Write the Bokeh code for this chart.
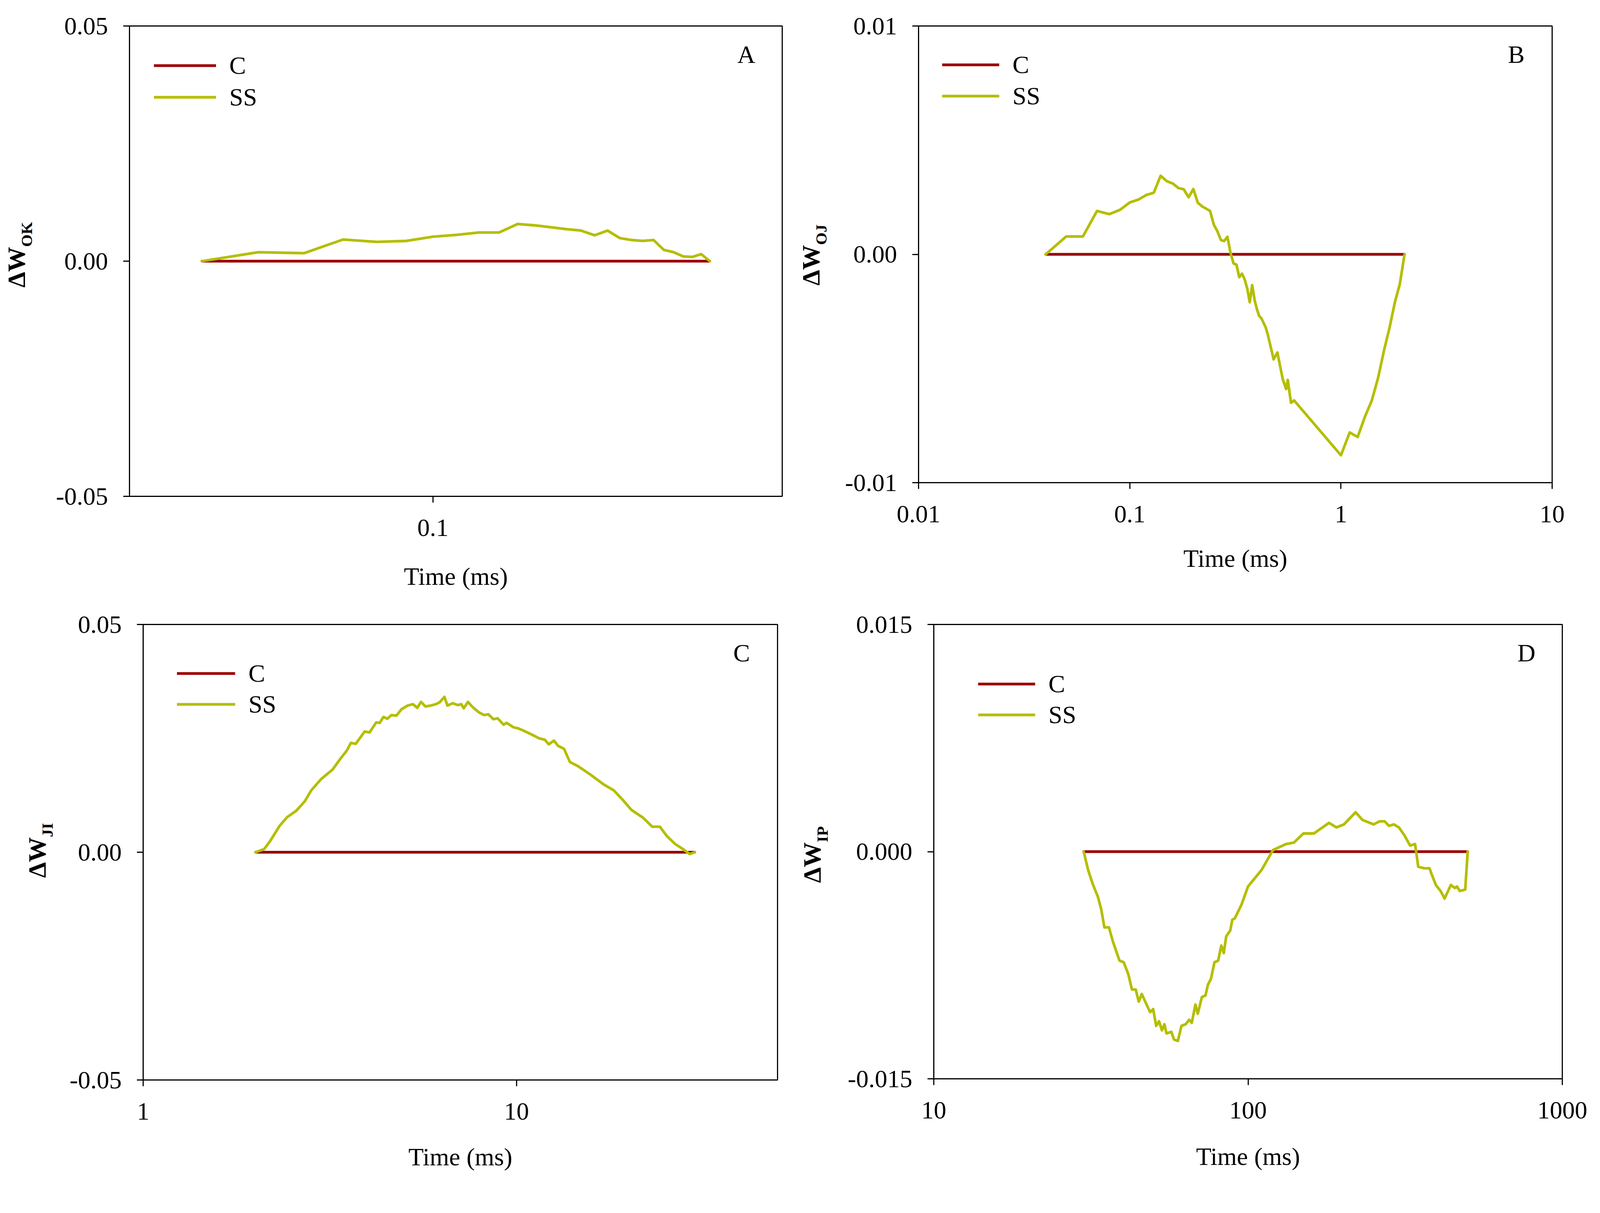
from bokeh.plotting import figure
from bokeh.models import Range1d, FixedTicker, PrintfTickFormatter, CustomJSTickFormatter, Label, Div
from bokeh.layouts import column, row
from bokeh.embed import file_html
from bokeh.resources import INLINE

# ---------------- data ----------------
# Panel A: delta W_OK
a_time = [0.04, 0.05, 0.06, 0.07, 0.08, 0.09, 0.10, 0.11, 0.12, 0.13, 0.14, 0.15, 0.16, 0.17,
          0.18, 0.19, 0.20, 0.21, 0.22, 0.23, 0.24, 0.25, 0.26, 0.27, 0.28, 0.29, 0.30]
a_ss = [0.0, 0.0019, 0.0017, 0.0046, 0.0041, 0.0043, 0.0052, 0.0056, 0.0061, 0.0061, 0.0079, 0.0076,
        0.0072, 0.0068, 0.0065, 0.0055, 0.0065, 0.0049, 0.0045, 0.0043, 0.0045, 0.0024, 0.0019,
        0.0010, 0.0009, 0.0015, 0.0]
a_c_time = [0.04, 0.30]
a_c = [0.0, 0.0]

# Panel B: delta W_OJ
b_time = [0.04, 0.05, 0.06, 0.07, 0.08, 0.09, 0.10, 0.11, 0.12, 0.13, 0.14, 0.15, 0.16, 0.17,
          0.18, 0.19, 0.20, 0.21, 0.22, 0.23, 0.24, 0.25, 0.26, 0.27, 0.28, 0.29, 0.30, 0.31,
          0.32, 0.33, 0.34, 0.35, 0.36, 0.37, 0.38, 0.39, 0.40, 0.41, 0.42, 0.44, 0.45, 0.48,
          0.50, 0.53, 0.55, 0.56, 0.58, 0.60, 1.0, 1.1, 1.2, 1.3, 1.4, 1.5, 1.6, 1.7, 1.8, 1.9, 2.0]
b_ss = [0.0, 0.00078, 0.00078, 0.0019, 0.00176, 0.00195, 0.00227, 0.0024, 0.0026, 0.0027, 0.00344,
        0.0032, 0.0031, 0.0029, 0.00285, 0.0025, 0.00286, 0.00226, 0.0021, 0.0020, 0.0019, 0.0013,
        0.00101, 0.00063, 0.00058, 0.00077, 0.00007, -0.0004, -0.00045, -0.0010, -0.00085,
        -0.0011, -0.0015, -0.0021, -0.00135, -0.0020, -0.0024, -0.0027, -0.0028, -0.0032,
        -0.0035, -0.0046, -0.0043, -0.00546, -0.0059, -0.0055, -0.0065, -0.0064, -0.0088,
        -0.0078, -0.0080, -0.0071, -0.0064, -0.0054, -0.0042, -0.0032, -0.0021, -0.0013, 0.0]
b_c_time = [0.04, 2.0]
b_c = [0.0, 0.0]

# Panel C: delta W_JI
c_time = [2.0, 2.11, 2.19, 2.32, 2.43, 2.57, 2.71, 2.82, 3.0, 3.22, 3.38, 3.51, 3.60, 3.71, 3.92,
          4.04, 4.21, 4.30, 4.40, 4.51, 4.62, 4.77, 4.92, 5.11, 5.28, 5.42, 5.55, 5.70, 5.89, 6.08,
          6.22, 6.41, 6.53, 6.75, 6.96, 7.11, 7.22, 7.41, 7.64, 7.93, 8.19, 8.4, 8.67, 8.9, 9.23,
          9.4, 9.83, 10.1, 10.5, 11.0, 11.5, 11.9, 12.2, 12.6, 12.9, 13.4, 13.9, 14.6, 15.8, 17.1,
          18.2, 19.2, 20.3, 21.8, 23.1, 24.2, 25.3, 26.6, 27.9, 29.1, 30.0]
c_ss = [0.0, 0.0007, 0.0025, 0.0058, 0.0077, 0.0091, 0.0112, 0.0136, 0.0161, 0.0182, 0.0206,
        0.0223, 0.0240, 0.0238, 0.0265, 0.0263, 0.0285, 0.0284, 0.0297, 0.0293, 0.0301, 0.0300,
        0.0314, 0.0322, 0.0325, 0.0317, 0.0330, 0.0320, 0.0322, 0.0325, 0.0329, 0.0341, 0.0322,
        0.0327, 0.0323, 0.0325, 0.0316, 0.0330, 0.0318, 0.0307, 0.0301, 0.0303, 0.0292, 0.0294,
        0.0280, 0.0284, 0.0274, 0.0272, 0.0266, 0.0258, 0.0250, 0.0247, 0.0237, 0.0245, 0.0234,
        0.0227, 0.0198, 0.0189, 0.0170, 0.0149, 0.0136, 0.0116, 0.0093, 0.0076, 0.0056, 0.0056,
        0.0035, 0.0018, 0.0007, -0.0004, 0.0]
c_c_time = [2.0, 30.0]
c_c = [0.0, 0.0]

# Panel D: delta W_IP
d_time = [30.0, 31.0, 32.0, 33.3, 34.1, 34.9, 36.1, 37.1, 38.1, 39.0, 40.2, 41.6, 42.7, 43.9, 44.9,
          45.9, 47.3, 48.8, 49.9, 51.0, 52.1, 53.2, 54.2, 55.0, 57.0, 58.1, 59.8, 61.4, 63.3, 65.0,
          66.2, 68.0, 69.2, 71.3, 73.2, 74.5, 76.2, 78.2, 80.3, 82.2, 83.7, 85.2, 87.8, 89.1, 90.8,
          95.3, 100.0, 110.5, 120.0, 132.0, 140.0, 150.0, 162.0, 181.0, 191.0, 202.0, 220.0, 231.0,
          251.0, 262.0, 272.0, 281.0, 291.0, 302.0, 314.0, 328.0, 340.0, 348.0, 364.0, 378.0,
          384.0, 396.0, 410.0, 422.0, 442.0, 455.0, 462.0, 472.0, 491.0, 500.0]
d_ss = [0.0, -0.00123, -0.0021, -0.0030, -0.0038, -0.0050, -0.0050, -0.0059, -0.0066, -0.0072,
        -0.0073, -0.0081, -0.0091, -0.0091, -0.0099, -0.0094, -0.0100, -0.0106, -0.0104, -0.0115,
        -0.0112, -0.0118, -0.0114, -0.0120, -0.0119, -0.0124, -0.0125, -0.0115, -0.0114, -0.0111,
        -0.0113, -0.0101, -0.0107, -0.0096, -0.0095, -0.0088, -0.0084, -0.0073, -0.0072, -0.0062,
        -0.0067, -0.0056, -0.0052, -0.0045, -0.0044, -0.0035, -0.0023, -0.0012, 0.0001, 0.0005,
        0.0006, 0.0012, 0.0012, 0.0019, 0.0016, 0.0018, 0.0026, 0.0021, 0.0018, 0.0020, 0.0020,
        0.0017, 0.0018, 0.0016, 0.0011, 0.0004, 0.0005, -0.0010, -0.0011, -0.0011, -0.0015,
        -0.0022, -0.0026, -0.0031, -0.0022, -0.0024, -0.0023, -0.0026, -0.0025, 0.0]
d_c_time = [30.0, 500.0]
d_c = [0.0, 0.0]

# axis ticks
a_xticks = [0.1]
b_xticks = [0.01, 0.1, 1, 10]
c_xticks = [1, 10]
d_xticks = [10, 100, 1000]
a_yticks = [-0.05, 0.0, 0.05]
b_yticks = [-0.01, 0.0, 0.01]
c_yticks = [-0.05, 0.0, 0.05]
d_yticks = [-0.015, 0.0, 0.015]

series_names = ["C", "SS"]
x_title = "Time (ms)"
RED = "#990000"
YEL = "#B4BE00"
FONT = "Liberation Serif"
FS = "64px"


def panel(cfg):
    p = figure(frame_width=cfg["fw"], frame_height=cfg["fh"], x_axis_type="log",
               x_range=Range1d(*cfg["xr"]), y_range=Range1d(*cfg["yr"]),
               output_backend="svg", toolbar_location=None,
               min_border_left=cfg["bl"], min_border_right=cfg["br"],
               min_border_top=cfg["bt"], min_border_bottom=cfg["bb"])
    p.grid.visible = False
    p.background_fill_color = "white"
    p.border_fill_color = "white"
    p.outline_line_color = "black"
    p.outline_line_width = 2.9

    p.line(cfg["ct"], cfg["cv"], line_color=RED, line_width=6.8, line_cap="round",
           line_join="round", legend_label=series_names[0])
    p.line(cfg["st"], cfg["sv"], line_color=YEL, line_width=6.8, line_cap="round",
           line_join="round", legend_label=series_names[1])

    for ax in (p.xaxis[0], p.yaxis[0]):
        ax.axis_line_width = 2.9
        ax.major_tick_line_width = 2.9
        ax.major_tick_out = 16
        ax.major_tick_in = 0
        ax.minor_tick_out = 0
        ax.minor_tick_in = 0
        ax.major_label_text_font = FONT
        ax.major_label_text_font_size = FS
        ax.major_label_text_color = "black"
    xa = p.xaxis[0]
    xa.ticker = FixedTicker(ticks=cfg["xt"], minor_ticks=[])
    xa.formatter = CustomJSTickFormatter(code="return tick.toString();")
    xa.major_label_standoff = 43
    xa.axis_label = x_title
    xa.axis_label_text_font = FONT
    xa.axis_label_text_font_size = FS
    xa.axis_label_text_font_style = "normal"
    xa.axis_label_text_color = "black"
    xa.axis_label_standoff = cfg["ts"]
    ya = p.yaxis[0]
    ya.ticker = FixedTicker(ticks=cfg["yt"], minor_ticks=[])
    ya.formatter = PrintfTickFormatter(format=cfg["yf"])
    ya.major_label_standoff = 39

    leg = p.legend[0]
    leg.location = "top_left"
    leg.margin = 0
    leg.padding = cfg["lp"]
    leg.spacing = cfg["ls"]
    leg.glyph_width = cfg["lw"]
    leg.glyph_height = 77
    leg.label_height = 77
    leg.label_standoff = 34
    leg.label_text_font = FONT
    leg.label_text_font_size = FS
    leg.label_text_color = "black"
    leg.background_fill_alpha = 0
    leg.border_line_alpha = 0

    fw, fh = cfg["fw"], cfg["fh"]
    p.add_layout(Label(x=fw - 92, y=fh - 73, x_units="screen", y_units="screen", text=cfg["letter"],
                       text_font=FONT, text_font_size=FS, text_color="black",
                       text_align="center", text_baseline="middle"))
    return p


def ylabel_div(width, height, left, bottom, sub):
    html = (
        f'<div style="position:relative;width:{width}px;height:{height}px;">'
        f'<div style="position:absolute;left:{left}px;top:{bottom}px;transform-origin:0 0;'
        f'transform:rotate(-90deg);white-space:nowrap;line-height:1;font-family:\'Liberation Serif\';'
        f'font-weight:bold;font-size:64px;color:black;">\u0394W'
        f'<span style="font-size:41px;position:relative;top:18px;">{sub}</span></div></div>'
    )
    return Div(text=html, width=width, height=height, margin=0)


pA = panel(dict(fw=1671, fh=1204, bl=223, br=38, bt=53, bb=258, xr=(0.03, 0.4), yr=(-0.05, 0.05),
                ct=a_c_time, cv=a_c, st=a_time, sv=a_ss, xt=a_xticks, yt=a_yticks, yf="%.2f",
                lp=63, ls=4, lw=159, letter="A", ts=65))
pB = panel(dict(fw=1622, fh=1169, bl=211, br=100, bt=66, bb=280, xr=(0.01, 10), yr=(-0.01, 0.01),
                ct=b_c_time, cv=b_c, st=b_time, sv=b_ss, xt=b_xticks, yt=b_yticks, yf="%.2f",
                lp=61, ls=3, lw=146, letter="B", ts=54))
pC = panel(dict(fw=1624, fh=1166, bl=208, br=40, bt=68, bb=254, xr=(1, 50), yr=(-0.05, 0.05),
                ct=c_c_time, cv=c_c, st=c_time, sv=c_ss, xt=c_xticks, yt=c_yticks, yf="%.2f",
                lp=87, ls=2, lw=149, letter="C", ts=57))
pD = panel(dict(fw=1609, fh=1163, bl=250, br=80, bt=83, bb=242, xr=(10, 1000), yr=(-0.015, 0.015),
                ct=d_c_time, cv=d_c, st=d_time, sv=d_ss, xt=d_xticks, yt=d_yticks, yf="%.3f",
                lp=114, ls=2, lw=146, letter="D", ts=59))

dA = ylabel_div(108, 1515, 11, 736, "OK")
dB = ylabel_div(100, 1515, 5, 731, "OJ")
dC = ylabel_div(158, 1488, 64, 732, "JI")
dD = ylabel_div(110, 1488, 18, 745, "IP")

layout = column(row(dA, pA, dB, pB), row(dC, pC, dD, pD))
open("out.html", "w").write(file_html(layout, INLINE))
